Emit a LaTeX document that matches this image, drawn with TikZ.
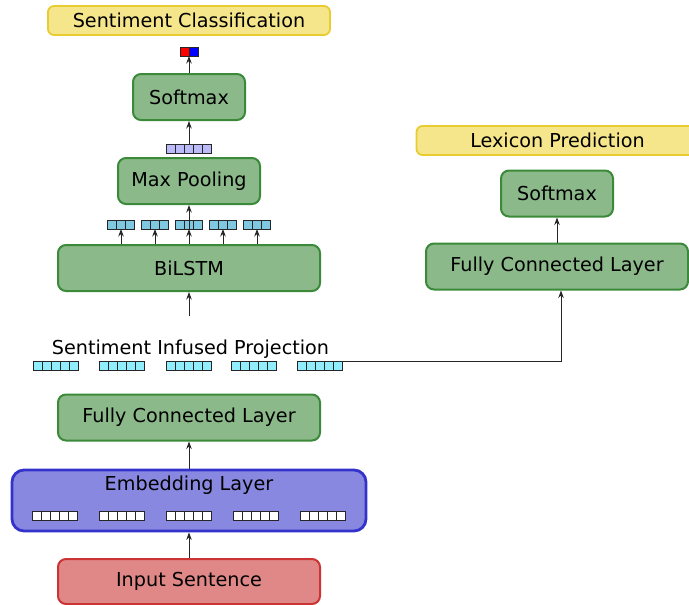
\documentclass[tikz,border=0pt]{standalone}
\usepackage{fontspec}
\setmainfont{DejaVu Sans}
\usetikzlibrary{arrows.meta,calc}
\definecolor{yfill}{HTML}{F5E68C}
\definecolor{ydraw}{HTML}{E8CC30}
\definecolor{gfill}{HTML}{8CB98A}
\definecolor{gdraw}{HTML}{3A8A3A}
\definecolor{bfill}{HTML}{8888E0}
\definecolor{bdraw}{HTML}{3333CC}
\definecolor{rfill}{HTML}{E08888}
\definecolor{rdraw}{HTML}{CC3333}
\definecolor{pvec}{HTML}{BBBBFA}
\definecolor{hvec}{HTML}{80C8E0}
\definecolor{cvec}{HTML}{90EEFF}
\newcommand{\vecnode}[6]{%
  \node[vecbox, fill=#5, minimum width=#4*9pt] (#1) at (#2,#3) {};
  \foreach \k in {1,...,#6} {
    \draw[line width=0.8pt, draw=black!85] ($(#1.south west)+(\k*9pt,0)$) -- ($(#1.north west)+(\k*9pt,0)$);
  }
}
\begin{document}
\begin{tikzpicture}[x=1pt,y=-1pt,
  lbl/.style={font=\fontsize{19.2}{23}\selectfont, inner sep=0pt},
  box/.style={lbl, draw, rounded corners=8pt, line width=2pt},
  gbox/.style={box, fill=gfill, draw=gdraw},
  ybox/.style={box, fill=yfill, draw=ydraw, rounded corners=6pt, line width=1.8pt},
  vecbox/.style={draw=black!85, line width=0.8pt, minimum height=9pt, inner sep=0pt, outer sep=0pt},
  arr/.style={-{Stealth[length=7.5pt,width=5.5pt]}, line width=0.9pt, draw=black!85},
  ln/.style={line width=0.9pt, draw=black!85}]
\useasboundingbox (0,0) rectangle (689,605);

% left column
\node[ybox, minimum width=282pt, minimum height=29pt] (sc) at (189,20.5) {Sentiment Classification};
\node[vecbox, minimum width=18pt] (out) at (189,51.5) {};
\fill[red] (out.south west) rectangle (out.north);
\fill[blue] (out.south) rectangle (out.north east);
\draw[line width=0.8pt, draw=black!85] (out.south west) rectangle (out.north east);
\draw[line width=0.8pt, draw=black!85] (out.south) -- (out.north);

\node[gbox, minimum width=112pt, minimum height=46pt] (sm1) at (189,97) {Softmax};
\vecnode{pv}{189}{148.5}{5}{pvec}{4}
\node[gbox, minimum width=142pt, minimum height=46pt] (mp) at (189,181) {Max Pooling};
\vecnode{hv1}{121}{224.5}{3}{hvec}{2}
\vecnode{hv2}{155}{224.5}{3}{hvec}{2}
\vecnode{hv3}{189}{224.5}{3}{hvec}{2}
\vecnode{hv4}{223}{224.5}{3}{hvec}{2}
\vecnode{hv5}{257}{224.5}{3}{hvec}{2}
\node[gbox, minimum width=262pt, minimum height=46pt] (bilstm) at (189,268) {BiLSTM};
\coordinate (bin) at (189,316);

\node[lbl] (sip) at (190.5,349) {Sentiment Infused Projection};
\vecnode{cv1}{56}{365.5}{5}{cvec}{4}
\vecnode{cv2}{122}{365.5}{5}{cvec}{4}
\vecnode{cv3}{189}{365.5}{5}{cvec}{4}
\vecnode{cv4}{254}{365.5}{5}{cvec}{4}
\vecnode{cv5}{320}{365.5}{5}{cvec}{4}

\node[gbox, minimum width=262pt, minimum height=46pt] (fc1) at (189,417.5) {Fully Connected Layer};
\node[box, fill=bfill, draw=bdraw, line width=2.8pt, rounded corners=12pt, minimum width=354pt, minimum height=61pt] (emb) at (189,500.5) {};
\node[lbl] (embl) at (189,485) {Embedding Layer};
\vecnode{wv1}{55}{515.5}{5}{white}{4}
\vecnode{wv2}{121.5}{515.5}{5}{white}{4}
\vecnode{wv3}{188.5}{515.5}{5}{white}{4}
\vecnode{wv4}{256}{515.5}{5}{white}{4}
\vecnode{wv5}{323}{515.5}{5}{white}{4}
\node[box, fill=rfill, draw=rdraw, minimum width=262pt, minimum height=45pt] (inp) at (189,581.5) {Input Sentence};

% right column
\node[ybox, minimum width=282pt, minimum height=29pt] (lp) at (557.5,140.5) {Lexicon Prediction};
\node[gbox, minimum width=112pt, minimum height=46pt] (sm2) at (557,193.5) {Softmax};
\node[gbox, minimum width=262pt, minimum height=46pt] (fc2) at (557,266.5) {Fully Connected Layer};

% connectors
\draw[arr] (sm1.north) -- (out.south);
\draw[arr] (pv.north) -- (sm1.south);
\foreach \v in {hv1,hv2,hv3,hv4,hv5} {
  \draw[arr] (bilstm.north -| \v) -- (\v.south);
}
\draw[arr] (hv3.south) -- (mp.south);
\draw[arr] (bin) -- (bilstm.south);
\draw[arr] (emb.north) -- (fc1.south);
\draw[arr] (inp.north) -- (emb.south);
\draw[arr] (cv5.north east) -| ([xshift=4pt]fc2.south);
\draw[arr] (fc2.north) -- (sm2.south);
\end{tikzpicture}
\end{document}
